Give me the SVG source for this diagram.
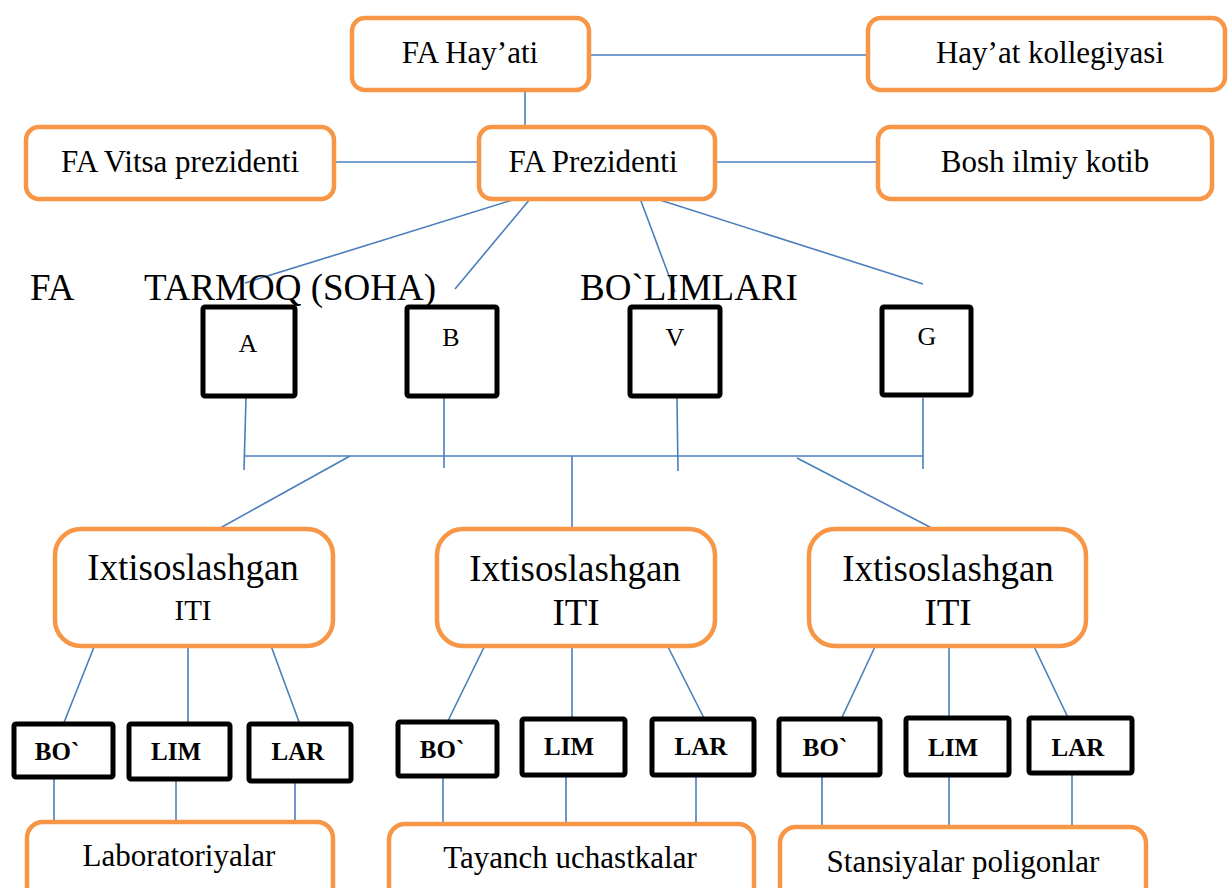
<svg xmlns="http://www.w3.org/2000/svg" width="1228" height="888" viewBox="0 0 1228 888">
<style>
.ob{fill:#fff;stroke:#F79646;stroke-width:4.5}
.bb{fill:#fff;stroke:#000;stroke-width:5}
.t{font-family:"Liberation Serif","Times New Roman",serif;fill:#000;text-anchor:middle}
.t31{font-size:31px}
.t37{font-size:37px}
.t26{font-size:26px}
.tb{font-size:25px;font-weight:bold}
.c{stroke:#4A7EBB;stroke-width:1.6;fill:none}
</style>
<rect width="1228" height="888" fill="#fff"/>
<g id="connectors">
<line class="c" x1="590" y1="55" x2="867" y2="55"/>
<line class="c" x1="525" y1="90" x2="525" y2="133"/>
<line class="c" x1="335" y1="162" x2="478" y2="162"/>
<line class="c" x1="716" y1="162" x2="877" y2="162"/>
<line class="c" x1="535" y1="193" x2="245" y2="283"/>
<line class="c" x1="535" y1="193" x2="455" y2="289"/>
<line class="c" x1="638" y1="193" x2="675" y2="292"/>
<line class="c" x1="638" y1="193" x2="923" y2="284"/>
<line class="c" x1="246" y1="398" x2="244" y2="470"/>
<line class="c" x1="444" y1="398" x2="444" y2="468"/>
<line class="c" x1="677" y1="398" x2="678" y2="471"/>
<line class="c" x1="923" y1="398" x2="923" y2="469"/>
<line class="c" x1="245" y1="456" x2="923" y2="456"/>
<line class="c" x1="350" y1="456" x2="204" y2="537"/>
<line class="c" x1="572" y1="456" x2="572" y2="537"/>
<line class="c" x1="797" y1="458" x2="949" y2="537"/>
<line class="c" x1="100" y1="632" x2="61" y2="730"/>
<line class="c" x1="188" y1="632" x2="188" y2="730"/>
<line class="c" x1="267" y1="635" x2="302" y2="730"/>
<line class="c" x1="54" y1="773" x2="54" y2="825"/>
<line class="c" x1="176" y1="773" x2="176" y2="825"/>
<line class="c" x1="295" y1="773" x2="295" y2="823"/>
<line class="c" x1="490" y1="635" x2="443" y2="731"/>
<line class="c" x1="572" y1="635" x2="572" y2="725"/>
<line class="c" x1="662" y1="635" x2="708" y2="726"/>
<line class="c" x1="443" y1="773" x2="443" y2="834"/>
<line class="c" x1="566" y1="773" x2="566" y2="834"/>
<line class="c" x1="696" y1="773" x2="696" y2="834"/>
<line class="c" x1="880" y1="636" x2="838" y2="726"/>
<line class="c" x1="949" y1="636" x2="949" y2="726"/>
<line class="c" x1="1029" y1="636" x2="1072" y2="726"/>
<line class="c" x1="822" y1="772" x2="822" y2="833"/>
<line class="c" x1="949" y1="772" x2="949" y2="833"/>
<line class="c" x1="1072" y1="770" x2="1072" y2="833"/>
</g>
<g id="hayati"><rect class="ob" x="352" y="18" width="237" height="72" rx="13"/><text class="t t31" x="470" y="63">FA Hay’ati</text></g>
<g id="kollegiya"><rect class="ob" x="868" y="18" width="357" height="72" rx="13"/><text class="t t31" x="1050" y="63">Hay’at kollegiyasi</text></g>
<g id="vitsa"><rect class="ob" x="26" y="127" width="308" height="72" rx="13"/><text class="t t31" x="180" y="172">FA Vitsa prezidenti</text></g>
<g id="prezident"><rect class="ob" x="479" y="127" width="236" height="72" rx="13"/><text class="t t31" x="593" y="172">FA Prezidenti</text></g>
<g id="kotib"><rect class="ob" x="878" y="127" width="334" height="72" rx="13"/><text class="t t31" x="1045" y="172">Bosh ilmiy kotib</text></g>
<g id="heading">
<text class="t t37" style="text-anchor:start" x="30" y="300">FA</text>
<text class="t t37" style="text-anchor:start" x="144" y="300">TARMOQ (SOHA)</text>
<text class="t t37" style="text-anchor:start" x="580" y="300">BO`LIMLARI</text>
</g>
<g id="A"><rect class="bb" x="203" y="307" width="92" height="89" rx="2"/><text class="t t26" x="248" y="352">A</text></g>
<g id="B"><rect class="bb" x="407" y="307" width="90" height="89" rx="2"/><text class="t t26" x="451" y="346">B</text></g>
<g id="V"><rect class="bb" x="630" y="307" width="90" height="89" rx="2"/><text class="t t26" x="675" y="346">V</text></g>
<g id="G"><rect class="bb" x="882" y="307" width="89" height="88" rx="2"/><text class="t t26" x="927" y="345">G</text></g>
<g id="iti1"><rect class="ob" x="55" y="529" width="278" height="117" rx="26"/><text class="t t37" x="193" y="580">Ixtisoslashgan</text><text class="t" style="font-size:29px" x="193" y="620">ITI</text></g>
<g id="iti2"><rect class="ob" x="437" y="529" width="278" height="117" rx="26"/><text class="t t37" x="575" y="581">Ixtisoslashgan</text><text class="t t37" x="576" y="625">ITI</text></g>
<g id="iti3"><rect class="ob" x="809" y="529" width="277" height="117" rx="26"/><text class="t t37" x="948" y="581">Ixtisoslashgan</text><text class="t t37" x="948" y="625">ITI</text></g>
<g id="bo1"><rect class="bb" x="14" y="724" width="99" height="53" rx="2"/><text class="t tb" x="57" y="760">BO`</text></g>
<g id="lim1"><rect class="bb" x="129" y="724" width="101" height="55" rx="2"/><text class="t tb" x="176" y="760">LIM</text></g>
<g id="lar1"><rect class="bb" x="249" y="724" width="102" height="57" rx="2"/><text class="t tb" x="298" y="760">LAR</text></g>
<g id="bo2"><rect class="bb" x="398" y="722" width="99" height="54" rx="2"/><text class="t tb" x="442" y="758">BO`</text></g>
<g id="lim2"><rect class="bb" x="522" y="719" width="103" height="56" rx="2"/><text class="t tb" x="569" y="755">LIM</text></g>
<g id="lar2"><rect class="bb" x="652" y="719" width="102" height="56" rx="2"/><text class="t tb" x="701" y="755">LAR</text></g>
<g id="bo3"><rect class="bb" x="779" y="719" width="101" height="56" rx="2"/><text class="t tb" x="825" y="756">BO`</text></g>
<g id="lim3"><rect class="bb" x="906" y="718" width="103" height="57" rx="2"/><text class="t tb" x="953" y="756">LIM</text></g>
<g id="lar3"><rect class="bb" x="1029" y="718" width="103" height="55" rx="2"/><text class="t tb" x="1078" y="756">LAR</text></g>
<g id="lab"><rect class="ob" x="27" y="822" width="306" height="90" rx="16"/><text class="t t31" x="179" y="866">Laboratoriyalar</text></g>
<g id="tayanch"><rect class="ob" x="389" y="824" width="365" height="90" rx="16"/><text class="t t31" x="570" y="868">Tayanch uchastkalar</text></g>
<g id="stansiya"><rect class="ob" x="780" y="827" width="366" height="90" rx="16"/><text class="t t31" x="963" y="872">Stansiyalar poligonlar</text></g>
</svg>
